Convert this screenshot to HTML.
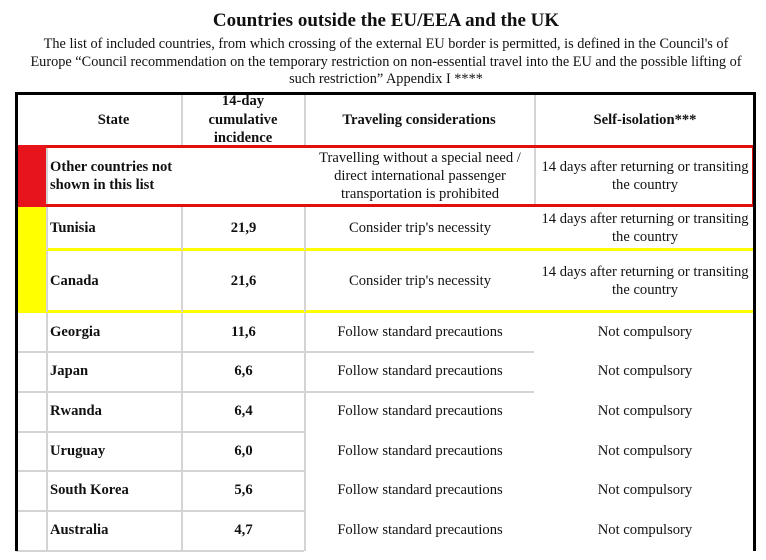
<!DOCTYPE html>
<html><head><meta charset="utf-8"><style>
body{margin:0;width:766px;height:560px;background:#fff;position:relative;overflow:hidden;font-family:"Liberation Serif",serif;color:#111}
.a{position:absolute}
.t{position:absolute;display:flex;align-items:center;font-size:14.6px;line-height:18px}
.c{justify-content:center;text-align:center}
.b{font-weight:bold}
</style></head><body>
<div class="a b" style="left:0;width:772px;top:10px;text-align:center;font-size:19px">Countries outside the EU/EEA and the UK</div>
<div class="a" style="left:0;width:772px;top:36px;text-align:center;font-size:14.3px;line-height:17.5px;white-space:nowrap">The list of included countries, from which crossing of the external EU border is permitted, is defined in the Council's of<br>Europe “Council recommendation on the temporary restriction on non-essential travel into the EU and the possible lifting of<br>such restriction” Appendix I ****</div>
<div id="tbl"></div>
<script>
const states=["Tunisia","Canada","Georgia","Japan","Rwanda","Uruguay","South Korea","Australia"];
const incidence=["21,9","21,6","11,6","6,6","6,4","6,0","5,6","4,7"];
const travel=["Consider trip's necessity","Consider trip's necessity","Follow standard precautions","Follow standard precautions","Follow standard precautions","Follow standard precautions","Follow standard precautions","Follow standard precautions"];
const isolation=["14 days after returning or transiting the country","14 days after returning or transiting the country","Not compulsory","Not compulsory","Not compulsory","Not compulsory","Not compulsory","Not compulsory"];
const level=["yellow","yellow","none","none","none","none","none","none"];
const T=document.getElementById('tbl');
function box(x,y,w,h,bg,name){const d=document.createElement('div');d.className='a';d.style.cssText=`left:${x}px;top:${y}px;width:${w}px;height:${h}px;background:${bg}`;


T.appendChild(d);return d;}
function txt(x,y,w,h,s,cls,name){const d=document.createElement('div');d.className='t '+cls;d.style.cssText=`left:${x}px;top:${y}px;width:${w}px;height:${h}px`;d.textContent=s;


T.appendChild(d);return d;}
// header
txt(46,94,135,51,"State","c b","header-state");
const hi=txt(193,92,100,53,"14-day cumulative incidence","c b","header-incidence");hi.style.lineHeight='18.5px';hi.style.alignItems='flex-start';hi.style.overflow='hidden';
txt(304,94,230,51,"Traveling considerations","c b","header-travel");
txt(534,94,222,51,"Self-isolation***","c b","header-isolation");
box(181,94,2,51,'#d4d4d4','header-divider');box(304,94,2,51,'#d4d4d4','header-divider');box(534,94,2,51,'#d4d4d4','header-divider');
// red row
box(16,145,30,62,'#e8141b','red-marker');
box(46,145,710,3,'#e01010','red-border-top');box(46,204,710,3,'#e01010','red-border-bottom');box(752,145,3,62,'#e01010','red-border-right');
box(46,148,2,56,'#d4d4d4','grid');box(534,148,2,56,'#d4d4d4','grid');
txt(50,148,131,56,"Other countries not shown in this list","b","state-other");
txt(311,148,218,56,"Travelling without a special need / direct international passenger transportation is prohibited","c","travel-other");
txt(536,148,218,56,"14 days after returning or transiting the country","c","isolation-other");
// data rows
const rowTop=[207,251,313,352,392,432,471,511];
const rowH=[43,61,39,40,40,39,40,40];
states.forEach((s,i)=>{const y=rowTop[i],h=rowH[i];
 if(level[i]==='yellow'){box(16,y,30,h+(i==0?0:1),'#ffff00','yellow-marker');box(16,y+h-2,740,3,'#ffff00','yellow-border');}
 else{box(16,y+h-1,30,2,'#d4d4d4','grid');box(46,y+h-1,258,2,'#d4d4d4','grid');}
 box(46,y,2,h,'#d4d4d4','grid');box(181,y,2,h,'#d4d4d4','grid');box(304,y,2,h,'#d4d4d4','grid');
 if(i===2||i===3)box(304,y+h-1,230,2,'#d4d4d4','grid');
 txt(50,y,131,h-2,s,"b","state-"+i);
 txt(183,y,121,h-2,incidence[i],"c b","incidence-"+i);
 txt(306,y,228,h-2,travel[i],"c","travel-"+i);
 txt(538,y,214,h-2,isolation[i],"c","isolation-"+i);
});
// outer border
box(16,92,740,3,'#000','border-top');box(15,92,3,459,'#000','border-left');box(753,92,3,459,'#000','border-right');
</script>
</body></html>
